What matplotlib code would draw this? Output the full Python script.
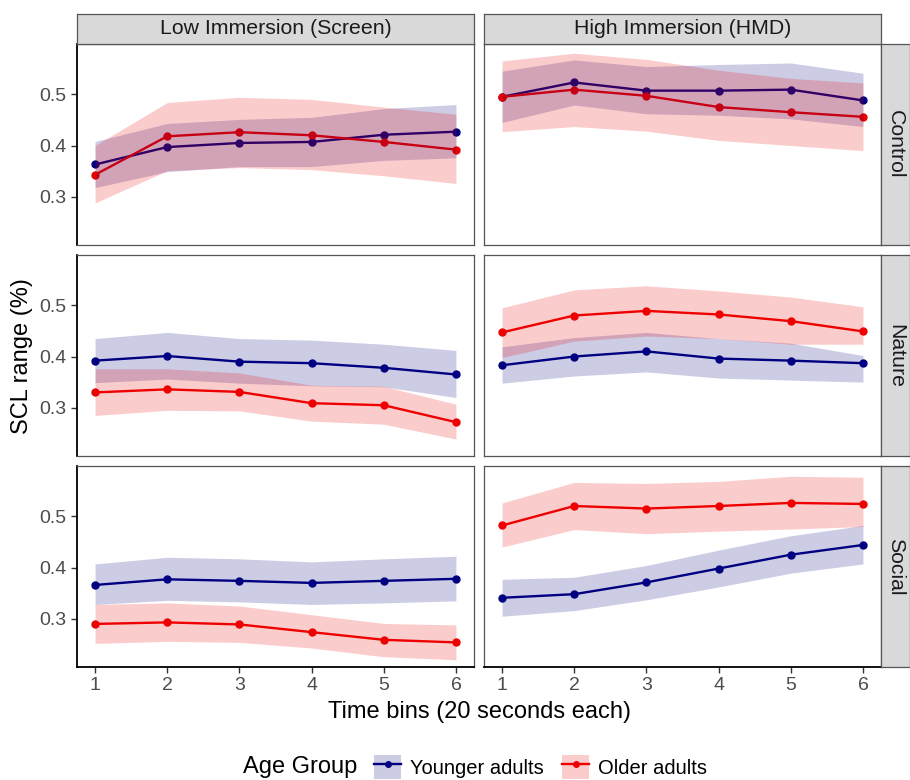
import numpy as np
import matplotlib
matplotlib.use("Agg")
import matplotlib.pyplot as plt
from matplotlib.patches import Patch
from matplotlib.lines import Line2D
from matplotlib.legend_handler import HandlerTuple

plt.rcParams['font.family'] = ['Liberation Sans', 'DejaVu Sans']

# data
bins = [1, 2, 3, 4, 5, 6]
immersion = ["Low Immersion (Screen)", "High Immersion (HMD)"]
conditions = ["Control", "Nature", "Social"]
groups = ["Younger adults", "Older adults"]

# mean, lower, upper per (condition, immersion, group)
young_ctrl_low = [0.363, 0.397, 0.405, 0.407, 0.421, 0.427]
young_ctrl_low_lo = [0.318, 0.349, 0.359, 0.359, 0.371, 0.376]
young_ctrl_low_hi = [0.408, 0.443, 0.451, 0.455, 0.472, 0.480]
old_ctrl_low = [0.343, 0.418, 0.426, 0.420, 0.407, 0.392]
old_ctrl_low_lo = [0.288, 0.351, 0.357, 0.353, 0.341, 0.326]
old_ctrl_low_hi = [0.400, 0.484, 0.494, 0.490, 0.475, 0.461]

young_ctrl_high = [0.495, 0.523, 0.507, 0.507, 0.509, 0.488]
young_ctrl_high_lo = [0.445, 0.479, 0.462, 0.459, 0.452, 0.437]
young_ctrl_high_hi = [0.545, 0.567, 0.554, 0.558, 0.561, 0.541]
old_ctrl_high = [0.495, 0.509, 0.497, 0.475, 0.465, 0.456]
old_ctrl_high_lo = [0.427, 0.437, 0.428, 0.410, 0.400, 0.390]
old_ctrl_high_hi = [0.565, 0.580, 0.568, 0.547, 0.531, 0.522]

young_nat_low = [0.392, 0.401, 0.390, 0.387, 0.378, 0.365]
young_nat_low_lo = [0.349, 0.356, 0.348, 0.343, 0.341, 0.320]
young_nat_low_hi = [0.435, 0.447, 0.435, 0.432, 0.424, 0.412]
old_nat_low = [0.330, 0.336, 0.331, 0.309, 0.305, 0.272]
old_nat_low_lo = [0.285, 0.295, 0.294, 0.274, 0.268, 0.239]
old_nat_low_hi = [0.376, 0.376, 0.368, 0.344, 0.342, 0.307]

young_nat_high = [0.383, 0.400, 0.410, 0.396, 0.392, 0.387]
young_nat_high_lo = [0.348, 0.362, 0.370, 0.358, 0.354, 0.350]
young_nat_high_hi = [0.419, 0.437, 0.447, 0.435, 0.426, 0.402]
old_nat_high = [0.447, 0.480, 0.489, 0.482, 0.469, 0.449]
old_nat_high_lo = [0.398, 0.430, 0.440, 0.435, 0.424, 0.424]
old_nat_high_hi = [0.495, 0.530, 0.538, 0.528, 0.516, 0.497]

young_soc_low = [0.366, 0.377, 0.374, 0.370, 0.374, 0.378]
young_soc_low_lo = [0.328, 0.336, 0.333, 0.328, 0.331, 0.335]
young_soc_low_hi = [0.407, 0.420, 0.417, 0.411, 0.417, 0.422]
old_soc_low = [0.290, 0.293, 0.289, 0.274, 0.259, 0.254]
old_soc_low_lo = [0.252, 0.256, 0.254, 0.243, 0.226, 0.220]
old_soc_low_hi = [0.328, 0.331, 0.325, 0.308, 0.291, 0.288]

young_soc_high = [0.341, 0.348, 0.371, 0.398, 0.425, 0.444]
young_soc_high_lo = [0.305, 0.316, 0.337, 0.362, 0.389, 0.407]
young_soc_high_hi = [0.377, 0.381, 0.404, 0.434, 0.462, 0.482]
old_soc_high = [0.482, 0.520, 0.515, 0.520, 0.526, 0.524]
old_soc_high_lo = [0.440, 0.474, 0.466, 0.471, 0.475, 0.480]
old_soc_high_hi = [0.526, 0.566, 0.564, 0.568, 0.578, 0.576]

panels = {
    ("Control", 0): [(young_ctrl_low, young_ctrl_low_lo, young_ctrl_low_hi),
                     (old_ctrl_low, old_ctrl_low_lo, old_ctrl_low_hi)],
    ("Control", 1): [(young_ctrl_high, young_ctrl_high_lo, young_ctrl_high_hi),
                     (old_ctrl_high, old_ctrl_high_lo, old_ctrl_high_hi)],
    ("Nature", 0): [(young_nat_low, young_nat_low_lo, young_nat_low_hi),
                    (old_nat_low, old_nat_low_lo, old_nat_low_hi)],
    ("Nature", 1): [(young_nat_high, young_nat_high_lo, young_nat_high_hi),
                    (old_nat_high, old_nat_high_lo, old_nat_high_hi)],
    ("Social", 0): [(young_soc_low, young_soc_low_lo, young_soc_low_hi),
                    (old_soc_low, old_soc_low_lo, old_soc_low_hi)],
    ("Social", 1): [(young_soc_high, young_soc_high_lo, young_soc_high_hi),
                    (old_soc_high, old_soc_high_lo, old_soc_high_hi)],
}

colors = ["#000080", "#EE0000"]
W, H = 910, 780
fig = plt.figure(figsize=(W / 100, H / 100), dpi=100)

col_x = [77, 484]
panel_w = 397
row_top = [44, 255, 466]
panel_h = 201
border = "#555555"
tick_col = "#4D4D4D"


def fig_rect(x, y, w, h):
    return [x / W, 1 - (y + h) / H, w / W, h / H]


def strip(rect, label, rot):
    sax = fig.add_axes(rect)
    sax.set_facecolor("#D9D9D9")
    sax.set_xticks([])
    sax.set_yticks([])
    for s in sax.spines.values():
        s.set_color(border)
        s.set_linewidth(0.9)
    sax.text(0.5, 0.5, label, ha='center', va='center', rotation=rot,
             fontsize=15.3, color="#1A1A1A", transform=sax.transAxes)


for r, cond in enumerate(conditions):
    for c in range(2):
        ax = fig.add_axes(fig_rect(col_x[c], row_top[r], panel_w, panel_h))
        for g, (mean, lo, hi) in enumerate(panels[(cond, c)]):
            ax.plot(bins, mean, color=colors[g], lw=1.7, marker='o', ms=5, zorder=2)
        # ribbons on top of the lines, as in the original
        for g, (mean, lo, hi) in enumerate(panels[(cond, c)]):
            ax.fill_between(bins, lo, hi, color=colors[g], alpha=0.2, lw=0, zorder=3)
        ax.set_xlim(0.75, 6.25)
        ax.set_ylim(0.206, 0.598)
        ax.set_xticks(bins)
        ax.set_yticks([0.3, 0.4, 0.5])
        ax.tick_params(colors="#333333", labelcolor=tick_col, labelsize=14,
                       length=4, width=1)
        for s in ax.spines.values():
            s.set_color(border)
            s.set_linewidth(0.9)
        if c == 0:
            ax.spines['left'].set_color("black")
            ax.spines['left'].set_linewidth(1.3)
        else:
            ax.tick_params(axis='y', left=False, labelleft=False)
        if r == 2:
            ax.spines['bottom'].set_color("black")
            ax.spines['bottom'].set_linewidth(1.3)
        else:
            ax.tick_params(axis='x', bottom=False, labelbottom=False)

        if r == 0:
            strip(fig_rect(col_x[c], 14, panel_w, 30), immersion[c], 0)
        if c == 1:
            strip(fig_rect(881, row_top[r], 29, panel_h), cond, -90)

fig.text(22 / W, 1 - 356 / H, "SCL range (%)", rotation=90, ha='center',
         va='center', fontsize=17)
fig.text(479 / W, 1 - 712 / H, "Time bins (20 seconds each)", ha='center',
         va='center', fontsize=17)

# legend
fig.text(243 / W, 1 - 767 / H, "Age Group", ha='left', va='center', fontsize=17)
handles = []
for g in range(2):
    patch = Patch(facecolor=colors[g], alpha=0.2, edgecolor='none')
    line = Line2D([], [], color=colors[g], lw=1.7, marker='o', ms=4)
    handles.append((patch, line))
leg = fig.legend(handles, groups, loc='center left',
                 bbox_to_anchor=(356 / W, 1 - 767 / H), ncol=2, frameon=False,
                 fontsize=14.5, handlelength=1.35, handleheight=1.5,
                 handletextpad=0.45, columnspacing=0.9,
                 handler_map={tuple: HandlerTuple(ndivide=1, pad=0)})

fig.savefig("out.png", dpi=100)
